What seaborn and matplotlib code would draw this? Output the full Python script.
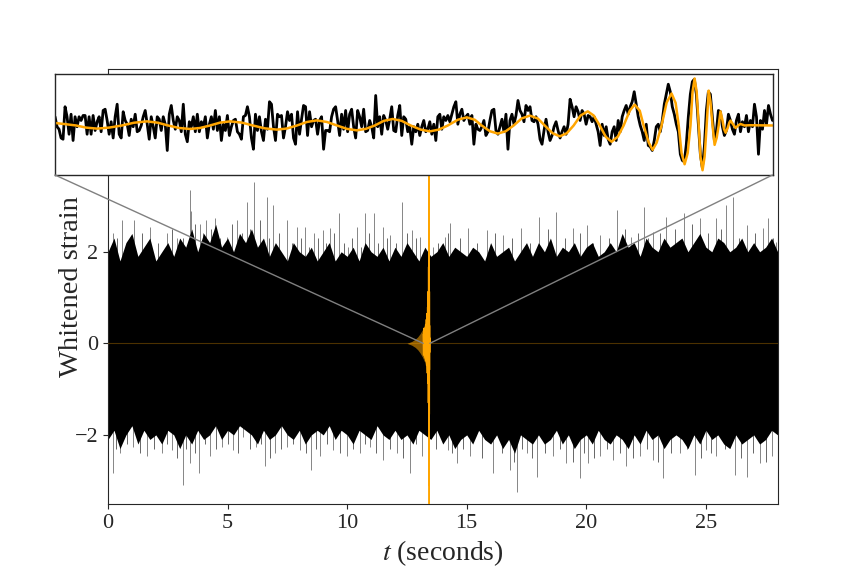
import numpy as np
import matplotlib
matplotlib.use("Agg")
import matplotlib.pyplot as plt
import seaborn as sns
from matplotlib.patches import ConnectionPatch

# ─── Data ─────────────────────────────────────────────────────────────────────

# zoom window (seconds) shown in the inset
zoom_t0, zoom_t1 = 13.18, 13.46

# whitened strain in the zoom window, 360 evenly spaced samples
inset_strain = [
    0.7, -0.1, -0.3, -1.0, -1.1, 1.5, 0.7, -0.7, 0.9, -1.2, 0.7,
    -0.1, 0.7, 0.4, 0.8, 0.8, -0.7, 0.7, -0.7, 0.8, -0.4, 0.3,
    0.7, -0.5, 1.2, 1.3, 0.4, -0.7, 0.3, -1.0, 0.7, 1.7,
    -0.7, -1.0, 1.1, 0.4, 0.1, -0.8, 0.5, -0.1, 0.9, -0.5, -0.4,
    0.0, 0.7, 1.2, 0.1, -1.1, 0.7, -0.1, -1.0, 0.7, 0.5,
    -0.4, 0.7, 0.1, -2.0, 0.9, 1.6, 0.4, -0.3, 0.7, 0.4, -0.5,
    1.7, -0.7, -1.3, 0.3, -0.1, 0.7, -0.5, 0.9, -0.5, 0.3,
    -0.1, 0.7, -1.0, 0.1, 0.7, -0.3, 1.2, -0.4, 0.7, -1.2,
    0.1, -0.4, 0.8, -0.8, -0.1, 0.4,
    # ---
    0.5, -0.5, -0.7, -1.1, 0.7, 0.8, 1.5,
    0.7, -1.0, -1.9, 0.9, -0.4, 0.7, -0.5, -1.2,
    0.5, -0.3, 1.9, 1.7, -0.1, -1.2, 0.9, 0.7,
    0.8, -1.0, -0.1, 1.1, 0.4, 0.9, -1.0, -1.5,
    1.1, -0.7, 0.5, 1.6, 1.5, -0.8, 1.1, -0.1,
    0.4, 0.5, -0.7, 0.4, 0.7, -1.9, -0.4, -0.4,
    -0.5, 0.7, 1.3, 1.5, 0.4, -0.8, 0.9, -0.3, 1.2,
    -0.5, 0.9, 1.3, -0.1, -1.0, 1.2, 0.7, -0.1,
    1.3, -0.5, -0.4, 0.4, -0.1, -1.0, 2.4, -0.1, 0.7,
    -0.7, 0.8, 0.4, -0.3, 0.5, 1.5, -0.4, -0.5, 0.8, 1.6,
    -0.8, 0.7, 0.5, -0.5, -0.1, -1.5,
    # ---
    -0.1, -0.5, 0.1, -0.8, -0.1, 0.4, -0.5, -0.3, 0.3, -0.7,
    0.1, -1.2, 0.7, 0.9, -0.3, 0.7, 0.4, 0.8, 0.3, 0.9,
    1.5, 1.9, 0.1, 0.9, 1.3, 0.4, 0.7, 0.9, 0.1, 0.8,
    -1.5, 0.1, -0.3, -0.4, -0.1, 0.4, -0.8, -0.5, 0.4, 1.2,
    1.3, -0.4, -0.7, -0.1, 0.5, -0.5, 0.9, -1.9, 0.4, 0.9,
    0.1, 0.8, 2.0, 1.2, 0.9, 0.3, 1.6, 1.2, 1.5, 0.4,
    0.3, 0.7, 0.1, -1.1, -1.5, -0.4, 0.5, -0.5, -1.2, -0.8,
    -0.1, 0.3, -0.4, -1.0, -0.5, -0.1, -0.7, 0.1, 2.1, 1.5,
    0.7, 1.5, 1.1, 0.4, 1.2, 0.9, 0.1, 0.8, 0.7, 0.3,
    # ---
    0.7, 0.1, -0.5, -1.6, 0.1, -0.8, -0.1, -1.1, -1.5, -0.5,
    -0.1, -1.2, 0.4, -0.5, 0.7, 1.2, 1.6, 0.9, 1.5, 1.9,
    2.7, 1.7, 0.7, 0.0, -0.5, -1.2, 0.1, -1.6, -1.7, -2.0,
    -1.2, -0.1, 0.1, -0.5, 0.4, 1.7, 2.5, 3.3, 2.7, 1.5,
    0.9, 0.1, -0.5, -2.3, -2.8, -2.9, -1.5, 0.7, 2.5, 3.5,
    3.7, 2.5, 0.1, -2.3, -3.4, -1.7, 1.2, 2.7, 2.5, 0.7,
    -1.2, -0.5, 1.2, 1.1, -0.1, -0.8, -0.4, 0.9, 0.4, -0.3,
    -0.7, 0.4, 0.9, -0.5, 0.3, -0.1, 0.8, -0.5, 0.4, -0.1,
    1.7, 0.7, -2.3, 0.4, -0.3, 1.2, 0.1, 1.6, 0.9, 0.4,
]

# template (orange) in the zoom window: ms after zoom_t0, value
chirp_ms = [
    0, 4.3, 8.2, 12.1, 16.4, 21.1, 26.1, 30.8, 35.9, 40.2, 44.1, 48.4,
    52.7, 56.6, 60.5, 64.4, 68.3, 72.9, 77.2, 81.9, 86.6, 90.5, 94.4, 98.3,
    102.2, 106.1, 110.0, 113.9, 117.8, 121.3, 124.8, 128.3, 131.8, 135.3,
    138.8, 142.7, 146.3, 149.8, 153.3, 157.2, 160.7, 163.8, 166.5, 169.7,
    172.8, 175.9, 179.0, 182.1, 185.3, 188.4, 191.1, 194.2, 197.0, 199.7,
    202.4, 205.1, 207.9, 210.2, 212.6, 214.9, 217.2, 219.6, 221.9, 224.3,
    226.2, 228.2, 229.7, 231.7, 233.2, 234.8, 236.7, 238.7, 240.6, 242.2,
    243.4, 244.5, 245.7, 246.9, 248.0, 248.8, 249.6, 250.4, 251.2, 251.9,
    252.7, 253.5, 254.3, 255.1, 255.8, 256.6, 257.4, 258.2, 259.0, 259.7,
    260.5, 261.1, 261.7, 262.5, 263.1, 263.6, 264.6, 265.6, 266.6, 267.5,
    269.1, 271.1, 280.0,
]
chirp_val = [
    0.20, 0.10, 0.00, -0.17, -0.25, -0.17, 0.00, 0.22, 0.33, 0.22, 0.00, -0.20,
    -0.28, -0.20, 0.00, 0.23, 0.33, 0.23, 0.00, -0.23, -0.33, -0.24, 0.00, 0.28,
    0.41, 0.28, 0.00, -0.27, -0.39, -0.27, 0.00, 0.37, 0.52, 0.37,
    0.00, -0.33, -0.47, -0.33, 0.00, 0.46, 0.65, 0.46, 0.00, -0.46,
    -0.65, -0.46, 0.00, 0.56, 0.79, 0.56, 0.00, -0.62, -0.87, -0.62,
    0.00, 0.80, 1.13, 0.80, 0.00, -0.90, -1.30, -0.90, 0.00, 1.18,
    1.67, 1.18, 0.00, -1.37, -1.95, -1.37, 0.00, 1.84, 2.56, 1.80,
    0.00, -2.20, -3.10, -2.20, 0.00, 2.70, 3.76, 2.70, 0.00, -2.50,
    -3.58, -2.50, 0.00, 2.79, 1.90, 0.00, -1.55, -1.00, 0.00, 1.13,
    0.40, -0.30, -0.58, -0.20, 0.20, 0.39, 0.10, -0.20, 0.00, 0.12,
    0.00, 0.02, 0.00,
]

# the chirp as seen in the full view: time (s), half-width of the orange fan
fan_t = [12.50, 12.70, 12.85, 12.95, 13.05, 13.15, 13.25, 13.32, 13.36]
fan_amp = [0.00, 0.04, 0.09, 0.14, 0.21, 0.30, 0.42, 0.60, 0.85]

# full 28 s record: solid core of the noise band (1 s steps)
core_t = list(range(0, 29))
core_hi = [1.5, 1.4, 1.35, 1.45, 1.55, 1.5, 1.45, 1.35, 1.3, 1.3, 1.3, 1.35,
           1.35, 1.4, 1.4, 1.35, 1.35, 1.4, 1.45, 1.5, 1.5, 1.45, 1.4, 1.45,
           1.5, 1.5, 1.45, 1.45, 1.5]
core_lo = [-1.45, -1.5, -1.45, -1.5, -1.45, -1.4, -1.4, -1.4, -1.45, -1.4,
           -1.35, -1.4, -1.4, -1.4, -1.4, -1.35, -1.4, -1.4, -1.4, -1.35, -1.4,
           -1.35, -1.4, -1.45, -1.4, -1.4, -1.45, -1.4, -1.4]

# ragged outer edge of the band (0.25 s steps)
fringe_t = [i * 0.25 for i in range(113)]
fringe_hi = [
    2.0, 2.3, 1.8, 2.2, 2.4, 1.9, 2.1, 2.3, 1.8, 2.0, 2.2, 1.9,
    2.3, 2.1, 2.5, 2.0, 2.4, 2.2, 2.6, 2.1, 2.3, 2.0, 2.4, 2.2,
    2.5, 2.1, 2.3, 1.9, 2.2, 2.0, 1.8, 2.2, 2.0, 1.9, 2.1, 1.8,
    2.0, 2.2, 1.8, 2.0, 1.9, 2.1, 1.8, 2.2, 2.0, 1.9, 2.1, 1.8,
    2.1, 1.9, 2.2, 2.0, 1.8, 2.1, 1.9, 2.0, 2.2, 1.9, 2.1, 2.0,
    1.9, 2.1, 2.0, 1.8, 2.2, 1.9, 2.0, 2.1, 1.8, 2.0, 2.2, 1.9,
    2.2, 2.0, 2.3, 1.9, 2.1, 2.0, 2.2, 1.9, 2.1, 2.2, 1.9, 2.0,
    2.2, 2.0, 2.4, 2.1, 2.2, 1.9, 2.3, 2.1, 2.0, 2.3, 2.1, 2.2,
    2.3, 2.0, 2.2, 2.4, 2.1, 2.0, 2.3, 2.2, 2.0, 2.1, 2.3, 2.0,
    2.2, 2.0, 2.1, 2.3, 2.0,
]
fringe_lo = [
    -2.1, -1.9, -2.3, -2.0, -1.8, -2.2, -1.9, -2.1, -2.0, -2.2, -1.9, -2.0,
    -2.3, -2.0, -2.2, -1.9, -2.1, -2.0, -1.8, -2.1, -1.9, -2.0, -1.8, -1.9,
    -2.0, -2.2, -1.9, -2.1, -2.0, -1.8, -2.0, -2.1, -1.9, -2.2, -2.0, -1.9,
    -2.0, -1.8, -2.1, -1.9, -2.0, -2.2, -1.9, -2.0, -2.1, -1.8, -2.0, -2.1,
    -1.9, -2.1, -2.0, -2.2, -1.9, -2.0, -2.1, -1.9, -2.2, -2.0, -2.3, -2.1,
    -2.0, -2.2, -1.9, -2.1, -2.2, -2.0, -2.3, -2.1, -2.4, -2.0, -2.1, -2.2,
    -2.0, -2.2, -2.1, -1.9, -2.2, -2.0, -2.3, -2.1, -2.0, -2.2, -1.9, -2.1,
    -2.2, -2.0, -2.1, -2.3, -2.0, -2.2, -1.9, -2.1, -2.0, -2.3, -2.1, -2.0,
    -2.1, -2.3, -2.0, -2.2, -1.9, -2.1, -2.0, -2.2, -2.3, -2.0, -2.2, -2.1,
    -2.0, -2.2, -2.1, -1.9, -2.0,
]

# isolated excursions above / below the band: time (s), strain
spike_hi_t = [0.2, 0.57, 1.1, 1.75, 2.45, 2.9, 3.43, 3.46, 3.85, 4.1, 4.47,
              4.96, 5.38, 5.8, 6.1, 6.63, 6.88, 7.47, 7.89, 8.24, 8.6, 8.97,
              9.28, 9.67, 10.05, 10.4, 10.74, 11.12, 11.5, 11.8, 12.3, 12.7,
              13.04, 13.6, 14.09, 14.3, 15.07, 15.83, 16.53, 17.29, 18.03,
              18.73, 19.45, 20.01, 20.57, 21.29, 21.89, 22.42, 22.8, 23.35,
              24.08, 24.75, 25.42, 25.84, 26.12, 26.7, 27.37, 27.6, 27.95]
spike_hi_v = [2.4, 2.7, 2.7, 2.55, 2.4, 2.3, 3.35, 2.9, 2.6, 2.7, 2.73,
              2.33, 2.7, 3.09, 3.53, 3.2, 3.02, 2.7, 2.55, 2.55, 2.4, 2.48,
              2.51, 2.84, 2.11, 2.55, 2.84, 2.84, 2.55, 2.37, 3.09, 2.48,
              2.33, 2.1, 2.33, 2.62, 2.51, 2.48, 2.37, 2.51, 2.77,
              2.87, 2.51, 2.58, 2.37, 2.91, 2.33, 2.98, 2.44, 2.77,
              2.84, 2.73, 2.73, 3.02, 3.2, 2.58, 2.51, 2.73, 2.22]
spike_lo_t = [0.2, 0.5, 1.06, 1.62, 2.24, 2.66, 3.12, 3.43, 3.82, 4.26, 4.75,
              5.24, 5.66, 6.2, 6.56, 6.98, 7.47, 8.02, 8.5, 8.86, 9.42, 9.98,
              10.53, 10.95, 11.5, 12.07, 12.62, 13.11, 14.23, 14.58, 15.14,
              16.11, 16.83, 17.11, 17.5, 17.95, 18.62, 19.17, 19.73, 20.08,
              20.57, 21.12, 21.68, 22.24, 22.8, 23.21, 23.91, 24.54, 25.02,
              25.44, 26.21, 26.7, 27.26, 27.75]
spike_lo_v = [-2.84, -2.4, -2.26, -2.47, -2.4, -2.33, -3.1, -2.62, -2.84,
              -2.47, -2.26, -2.33, -2.04, -2.26, -2.69, -2.4, -2.26, -2.33,
              -2.77, -2.47, -2.33, -2.47, -2.4, -2.26, -2.55, -2.4, -2.84,
              -2.47, -2.33, -2.62, -2.47, -2.84, -2.77, -3.25, -2.4, -2.91,
              -2.47, -2.62, -2.95, -2.62, -2.47, -2.55, -2.69, -2.47, -2.55,
              -2.95, -2.4, -2.88, -2.33, -2.47, -2.88, -2.91, -2.62, -2.47]

# smaller excursions in between
minor_hi_t = [0.38, 0.83, 1.42, 2.1, 2.67, 3.15, 3.65, 3.97, 4.3, 4.7,
              5.17, 5.6, 5.95, 6.36, 6.75, 7.17, 7.68, 8.06, 8.42, 8.78,
              9.12, 9.47, 9.86, 10.22, 10.57, 10.93, 11.31, 11.65, 12.05, 12.5,
              12.87, 13.8, 14.2, 14.7, 15.45, 16.2, 16.9, 17.66, 18.38, 19.1,
              19.73, 20.3, 20.93, 21.6, 22.15, 22.6, 23.07, 23.7, 24.4, 25.1,
              25.63, 26.4, 27.05, 27.8]
minor_hi_v = [2.3, 2.2, 2.4, 2.2, 2.5, 2.3, 2.6, 2.4, 2.5, 2.3,
              2.6, 2.4, 2.5, 2.7, 2.3, 2.4, 2.2, 2.3, 2.1, 2.3,
              2.2, 2.4, 2.2, 2.3, 2.1, 2.4, 2.2, 2.3, 2.2, 2.4,
              2.3, 2.2, 2.4, 2.3, 2.2, 2.4, 2.3, 2.2, 2.5, 2.3,
              2.4, 2.2, 2.3, 2.5, 2.4, 2.3, 2.4, 2.5, 2.6, 2.4,
              2.5, 2.3, 2.4, 2.3]
minor_lo_t = [0.35, 0.78, 1.34, 1.93, 2.45, 2.89, 3.28, 3.63, 4.04, 4.5,
              5.0, 5.45, 5.93, 6.38, 6.77, 7.22, 7.75, 8.26, 8.68, 9.14,
              9.7, 10.26, 10.74, 11.22, 11.78, 12.35, 12.86, 13.7, 14.4, 14.86,
              15.62, 16.47, 16.97, 17.3, 17.72, 18.28, 18.9, 19.45, 19.9, 20.32,
              20.85, 21.4, 21.96, 22.52, 23.0, 23.56, 24.22, 24.78, 25.23, 25.82,
              26.45, 26.98, 27.5]
minor_lo_v = [-2.3, -2.2, -2.4, -2.3, -2.2, -2.5, -2.3, -2.4, -2.2, -2.3,
              -2.2, -2.4, -2.3, -2.2, -2.5, -2.3, -2.2, -2.4, -2.3, -2.2,
              -2.4, -2.3, -2.2, -2.4, -2.3, -2.5, -2.2, -2.3, -2.4, -2.3,
              -2.5, -2.4, -2.6, -2.3, -2.5, -2.4, -2.3, -2.6, -2.4, -2.5,
              -2.3, -2.4, -2.5, -2.3, -2.6, -2.4, -2.3, -2.5, -2.4, -2.3,
              -2.5, -2.4, -2.6]

DURATION = 28.0
SIG_COLOR = "orange"


def main():
    sns.set_style("ticks")
    plt.rcParams["font.family"] = ["Liberation Serif", "DejaVu Serif"]
    plt.rcParams["mathtext.fontset"] = "stix"
    plt.rcParams["axes.edgecolor"] = "0.15"
    plt.rcParams["axes.linewidth"] = 0.8

    fig = plt.figure(figsize=(8.64, 5.76), dpi=100)
    ax = fig.add_axes([0.125, 0.125, 0.775, 0.755])

    t_zoom = np.linspace(zoom_t0, zoom_t1, len(inset_strain))
    t_chirp = zoom_t0 + np.array(chirp_ms) / 1000.0

    # ─── full record ──────────────────────────────────────────────────────────
    for ts, vs, c in [(spike_hi_t, spike_hi_v, "0.45"), (spike_lo_t, spike_lo_v, "0.45"),
                      (minor_hi_t, minor_hi_v, "0.3"), (minor_lo_t, minor_lo_v, "0.3")]:
        ax.vlines(ts, 0, vs, color=c, lw=0.6, zorder=1)
    ax.fill_between(fringe_t, fringe_lo, fringe_hi, color="black", lw=0, zorder=2)
    ax.fill_between(core_t, core_lo, core_hi, color="black", lw=0, zorder=2)

    ax.axhline(0, color=SIG_COLOR, lw=0.8, alpha=0.3, zorder=3)
    ax.fill_between(fan_t, -np.array(fan_amp), fan_amp,
                    color=SIG_COLOR, alpha=0.55, lw=0, zorder=3)
    sns.lineplot(x=t_chirp, y=chirp_val, ax=ax, color=SIG_COLOR, lw=1.0,
                 sort=False, estimator=None, zorder=4)

    ax.set_xlim(0, DURATION)
    ax.set_ylim(-3.51, 5.99)
    ax.set_xlabel(r"$t$ (seconds)", fontsize=20)
    ax.set_ylabel("Whitened strain", fontsize=20.5)
    ax.yaxis.set_label_coords(-0.036, 0.5)
    ax.tick_params(labelsize=16)
    for s in ax.spines.values():
        s.set_visible(True)

    # ─── zoomed inset ─────────────────────────────────────────────────────────
    axins = fig.add_axes([0.0637, 0.6962, 0.8304, 0.1745])
    sns.lineplot(x=t_zoom, y=inset_strain, ax=axins, color="black", lw=2.0,
                 estimator=None)
    sns.lineplot(x=t_chirp, y=chirp_val, ax=axins, color=SIG_COLOR, lw=1.8,
                 sort=False, estimator=None)
    axins.set_xlim(zoom_t0, zoom_t1)
    axins.set_ylim(-3.96, 4.08)
    axins.set_xticks([])
    axins.set_yticks([])
    axins.set_xlabel("")
    axins.set_ylabel("")
    for s in axins.spines.values():
        s.set_visible(True)
        s.set_linewidth(1.0)
        s.set_color("0.15")

    # lines from the zoomed stretch to the inset corners
    for t_edge, corner in [(zoom_t0, (0, 0)), (zoom_t1, (1, 0))]:
        con = ConnectionPatch(xyA=(t_edge, 0), coordsA=ax.transData,
                              xyB=corner, coordsB=axins.transAxes,
                              color="0.5", lw=1.0)
        fig.add_artist(con)

    fig.savefig("out.png", dpi=100)
    plt.close(fig)


if __name__ == "__main__":
    main()
